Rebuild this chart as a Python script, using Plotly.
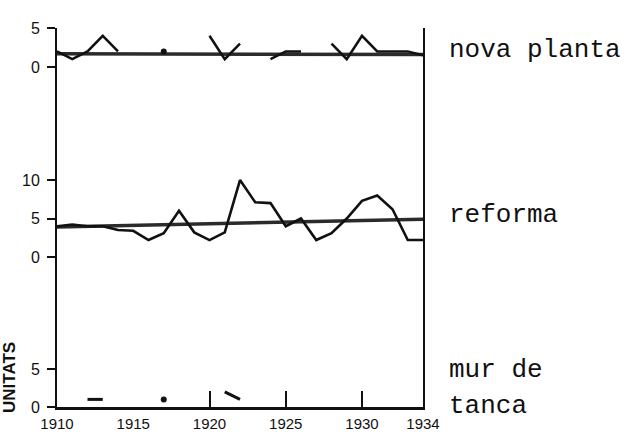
import plotly.graph_objects as go
from plotly.subplots import make_subplots

years = list(range(1910, 1935))
year_ticks = [1910, 1915, 1920, 1925, 1930, 1934]
mark_ticks = [1920, 1925, 1930]

# New buildings (nova planta); None = no separate stroke (value lies on trend)
nova_planta = [2, 1, 2, 4, 2, None, None, 2, None, None,
               4, 1, 3, None, 1, 2, 2, None, 3, 1,
               4, 2, 2, 2, 1.5]
nova_planta_trend = [1.7, 1.6]

# Renovations (reforma)
reforma = [4, 4.2, 4, 4, 3.5, 3.4, 2.2, 3.1, 6, 3.2,
           2.2, 3.2, 10, 7.1, 7, 4, 5, 2.2, 3.1, 5,
           7.3, 8, 6.2, 2.2, 2.2]
reforma_trend = [3.9, 4.9]

# Boundary walls (mur de tanca)
mur_tanca = [None, None, 1, 1, None, None, None, 1, None, None,
             None, 2, 1, None, None, None, None, None, None, None,
             None, None, None, None, None]

labels = ["nova planta", "reforma", "mur de", "tanca"]


def isolated_sizes(vals, size):
    out = []
    for i, v in enumerate(vals):
        prev_v = vals[i - 1] if i > 0 else None
        next_v = vals[i + 1] if i < len(vals) - 1 else None
        out.append(size if (v is not None and prev_v is None and next_v is None) else 0)
    return out


fig = make_subplots(rows=3, cols=1, shared_xaxes=True, vertical_spacing=0,
                    row_heights=[92, 170, 117])

INK = "#111111"
TREND = "#2b2b2b"
end_years = [years[0], years[-1]]

fig.add_trace(go.Scatter(x=end_years, y=nova_planta_trend, mode="lines",
                         line=dict(color=TREND, width=3.5)), row=1, col=1)
fig.add_trace(go.Scatter(x=years, y=nova_planta, mode="lines+markers",
                         line=dict(color=INK, width=2.5),
                         marker=dict(color=INK, opacity=1,
                                     size=isolated_sizes(nova_planta, 6),
                                     line=dict(width=0)),
                         connectgaps=False), row=1, col=1)

fig.add_trace(go.Scatter(x=end_years, y=reforma_trend, mode="lines",
                         line=dict(color=TREND, width=3.5)), row=2, col=1)
fig.add_trace(go.Scatter(x=years, y=reforma, mode="lines",
                         line=dict(color=INK, width=2.6)), row=2, col=1)

fig.add_trace(go.Scatter(x=years, y=mur_tanca, mode="lines+markers",
                         line=dict(color=INK, width=3),
                         marker=dict(color=INK, opacity=1,
                                     size=isolated_sizes(mur_tanca, 6),
                                     line=dict(width=0)),
                         connectgaps=False), row=3, col=1)

tick_font = dict(family="Liberation Sans Narrow, Arial Narrow, sans-serif",
                 size=16, color=INK)
y_common = dict(showgrid=False, zeroline=False, showline=True, linecolor=INK,
                linewidth=2, mirror=True, ticks="outside", ticklen=8,
                tickwidth=1.5, tickcolor=INK, tickfont=tick_font,
                ticklabelstandoff=4, automargin=False)

fig.update_yaxes(range=[-6.8, 5], tickvals=[0, 5], row=1, col=1, **y_common)
fig.update_yaxes(range=[-4.29, 17.8], tickvals=[0, 5, 10], row=2, col=1, **y_common)
fig.update_yaxes(range=[0, 15.4], tickvals=[0, 5], row=3, col=1, **y_common)

fig.update_xaxes(range=[1910, 1934], showgrid=False, zeroline=False,
                 showline=False, ticks="", showticklabels=False, automargin=False)
fig.update_xaxes(row=3, col=1, showline=True, linecolor=INK, linewidth=3,
                 showticklabels=True, tickvals=year_ticks, ticklabelstandoff=1,
                 tickfont=dict(family="Liberation Sans Narrow, Arial Narrow, sans-serif",
                               size=15, color=INK),
                 minor=dict(tickvals=mark_ticks, ticks="inside", ticklen=16,
                            tickwidth=1.5, tickcolor=INK))

label_font = dict(family="Liberation Mono, Courier New, monospace", size=26, color=INK)
for text, ypx in zip(labels, [50, 215, 370, 406]):
    fig.add_annotation(text=text, xref="paper", yref="paper",
                       x=(447 - 57) / 366, y=(407 - ypx) / 379,
                       xanchor="left", yanchor="middle", showarrow=False,
                       font=label_font)

fig.add_annotation(text="<b>UNITATS</b>", xref="paper", yref="paper",
                   x=(9 - 57) / 366, y=(407 - 378) / 379,
                   xanchor="center", yanchor="middle", textangle=-90,
                   showarrow=False,
                   font=dict(family="Liberation Sans Narrow, Arial Narrow, sans-serif",
                             size=17, color=INK))

fig.update_layout(width=632, height=432, showlegend=False,
                  margin=dict(l=57, r=209, t=28, b=25, autoexpand=False),
                  paper_bgcolor="white", plot_bgcolor="white")

fig.write_html("out.html")
